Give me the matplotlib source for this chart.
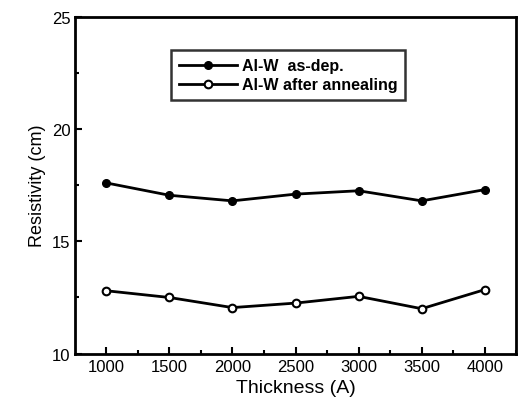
import matplotlib.pyplot as plt
from matplotlib.ticker import MultipleLocator

# Donnees
thickness = [1000, 1500, 2000, 2500, 3000, 3500, 4000]
as_dep = [17.6, 17.05, 16.8, 17.1, 17.25, 16.8, 17.3]
after_anneal = [12.8, 12.5, 12.05, 12.25, 12.55, 12.0, 12.85]
xticks = [1000, 1500, 2000, 2500, 3000, 3500, 4000]
yticks = [10, 15, 20, 25]

plt.rcParams['font.family'] = ['Liberation Sans', 'DejaVu Sans']

fig = plt.figure(figsize=(5.19, 4.10), dpi=100)
ax = fig.add_axes([0.145, 0.135, 0.85, 0.822])

ax.plot(thickness, as_dep, color='black', lw=2, marker='o', ms=5.5,
        mfc='black', label='Al-W  as-dep.')
ax.plot(thickness, after_anneal, color='black', lw=2, marker='o', ms=5.5,
        mfc='white', mew=1.5, label='Al-W after annealing')

ax.set_xlim(755, 4250)
ax.set_ylim(10, 25)
ax.set_xticks(xticks)
ax.set_yticks(yticks)
ax.xaxis.set_minor_locator(MultipleLocator(250))
ax.yaxis.set_minor_locator(MultipleLocator(2.5))
ax.tick_params(which='both', direction='in', width=1.5, labelsize=12)
ax.tick_params(which='major', length=5)
ax.tick_params(which='minor', length=3)
for s in ax.spines.values():
    s.set_linewidth(2)

ax.set_xlabel('Thickness (A)', fontsize=14)
ax.set_ylabel('Resistivity (cm)', fontsize=13)

leg = ax.legend(loc='upper left', bbox_to_anchor=(0.218, 0.9), frameon=True,
                fancybox=False, edgecolor='black', handlelength=3.6,
                handletextpad=0.3, prop={'weight': 'bold', 'size': 11.5},
                borderpad=0.5, labelspacing=0.25, borderaxespad=0)
leg.get_frame().set_linewidth(1.8)

fig.savefig('out.png', dpi=100)
